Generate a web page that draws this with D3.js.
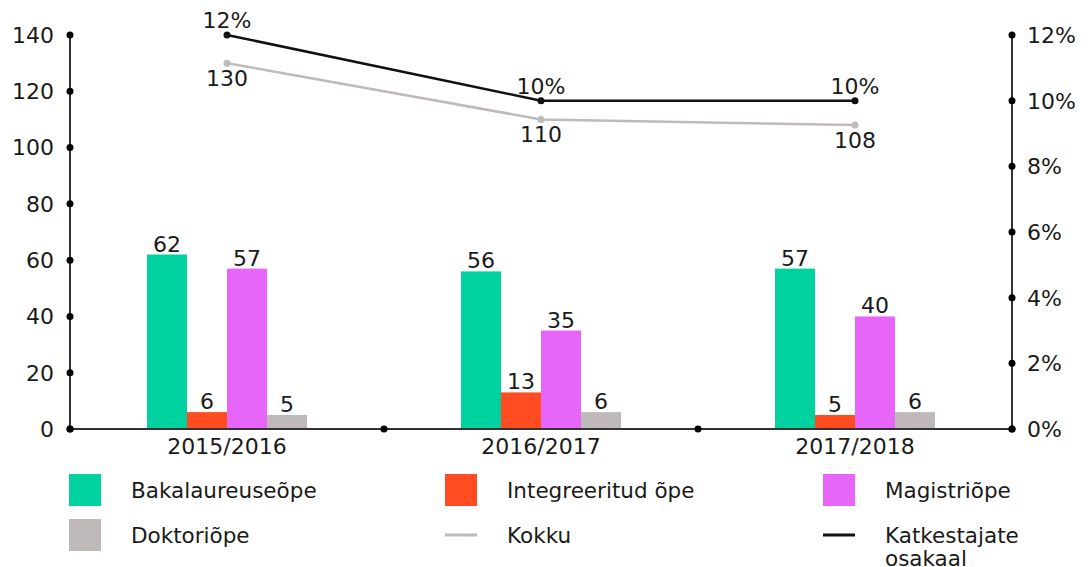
<!DOCTYPE html>
<html>
<head>
<meta charset="utf-8">
<script src="https://cdn.jsdelivr.net/npm/d3@7"></script>
<style>
	body { margin: 0; background: #fff; }
	text { font-family: "DejaVu Sans", sans-serif; fill: #1a1a1a; }
</style>
</head>
<body>
<svg id="chart" width="1088" height="567"></svg>
<script>
// data
const years = ["2015/2016", "2016/2017", "2017/2018"]
const seriesNames = ["Bakalaureuseõpe", "Integreeritud õpe", "Magistriõpe", "Doktoriõpe"]
const bakalaureus = [62, 56, 57]
const integreeritud = [6, 13, 5]
const magister = [57, 35, 40]
const doktor = [5, 6, 6]
const kokku = [130, 110, 108]
const katkestajad = [0.12, 0.10, 0.10]
const leftTicks = [0, 20, 40, 60, 80, 100, 120, 140]
const rightTicks = [0, 0.02, 0.04, 0.06, 0.08, 0.10, 0.12]

const colours = {
	green: "#00d29f",
	orange: "#ff4d21",
	magenta: "#e865fa",
	grey: "#bfb9b9",
	black: "#111",
	axis: "#333"
}
const barColours = [colours.green, colours.orange, colours.magenta, colours.grey]
const barValues = [bakalaureus, integreeritud, magister, doktor]

const svg = d3.select("#chart")
const plotLeft = 70, plotRight = 1012, plotTop = 35, plotBottom = 429
const fontSize = 22

const x = d3.scaleBand().domain(years).range([plotLeft, plotRight])
const x1 = d3.scaleBand().domain(seriesNames).range([0, 160])
const yL = d3.scaleLinear().domain([0, 140]).range([plotBottom, plotTop])
const yR = d3.scaleLinear().domain([0, 0.12]).range([plotBottom, plotTop])
const cx = d => x(d) + x.bandwidth() / 2

/**
 * bars, one group per study year
 */
const rows = years.flatMap((yr, i) =>
	seriesNames.map((s, j) => ({ yr, s, v: barValues[j][i], c: barColours[j] }))
)

const bar = svg.append("g").selectAll("g").data(rows).enter().append("g")

bar.append("rect")
	.attr("x", d => cx(d.yr) - 80 + x1(d.s))
	.attr("width", x1.bandwidth())
	.attr("y", d => yL(d.v))
	.attr("height", d => plotBottom - yL(d.v))
	.attr("fill", d => d.c)

bar.append("text")
	.attr("x", d => cx(d.yr) - 80 + x1(d.s) + x1.bandwidth() / 2)
	.attr("y", d => yL(d.v) - 3)
	.attr("text-anchor", "middle")
	.attr("font-size", fontSize)
	.text(d => d.v)

/**
 * axes: plain lines with dots at every tick
 */
const axes = svg.append("g")
axes.append("line").attr("x1", plotLeft).attr("x2", plotLeft).attr("y1", plotTop).attr("y2", plotBottom)
	.attr("stroke", colours.axis).attr("stroke-width", 2)
axes.append("line").attr("x1", plotRight).attr("x2", plotRight).attr("y1", plotTop).attr("y2", plotBottom)
	.attr("stroke", colours.axis).attr("stroke-width", 2)
axes.append("line").attr("x1", plotLeft).attr("x2", plotRight).attr("y1", plotBottom).attr("y2", plotBottom)
	.attr("stroke", colours.axis).attr("stroke-width", 2)

axes.selectAll(".ltick").data(leftTicks).enter().append("circle")
	.attr("cx", plotLeft).attr("cy", d => yL(d)).attr("r", 3.5).attr("fill", "#000")
axes.selectAll(".llab").data(leftTicks).enter().append("text")
	.attr("x", plotLeft - 16).attr("y", d => yL(d)).attr("dy", "0.36em")
	.attr("text-anchor", "end").attr("font-size", fontSize).text(d => d)

axes.selectAll(".rtick").data(rightTicks).enter().append("circle")
	.attr("cx", plotRight).attr("cy", d => yR(d)).attr("r", 3.5).attr("fill", "#000")
axes.selectAll(".rlab").data(rightTicks).enter().append("text")
	.attr("x", plotRight + 15).attr("y", d => yR(d)).attr("dy", "0.36em")
	.attr("font-size", fontSize).text(d => d3.format(".0%")(d))

const edges = years.map(d => x(d)).concat([plotRight])
axes.selectAll(".xtick").data(edges).enter().append("circle")
	.attr("cx", d => d).attr("cy", plotBottom).attr("r", 3.5).attr("fill", "#000")
axes.selectAll(".xlab").data(years).enter().append("text")
	.attr("x", d => cx(d)).attr("y", plotBottom + 25)
	.attr("text-anchor", "middle").attr("font-size", fontSize).text(d => d)

/**
 * the two lines: total (left axis) and drop-out share (right axis)
 */
const kokkuLine = d3.line().x((d, i) => cx(years[i])).y(d => yL(d))
const katkLine = d3.line().x((d, i) => cx(years[i])).y(d => yR(d))

svg.append("path").datum(kokku).attr("d", kokkuLine)
	.attr("fill", "none").attr("stroke", colours.grey).attr("stroke-width", 2.5)
svg.selectAll(".kdot").data(kokku).enter().append("circle")
	.attr("cx", (d, i) => cx(years[i])).attr("cy", d => yL(d)).attr("r", 3.5).attr("fill", colours.grey)
svg.selectAll(".klab").data(kokku).enter().append("text")
	.attr("x", (d, i) => cx(years[i])).attr("y", d => yL(d) + 23)
	.attr("text-anchor", "middle").attr("font-size", fontSize).text(d => d)

svg.append("path").datum(katkestajad).attr("d", katkLine)
	.attr("fill", "none").attr("stroke", colours.black).attr("stroke-width", 2.5)
svg.selectAll(".cdot").data(katkestajad).enter().append("circle")
	.attr("cx", (d, i) => cx(years[i])).attr("cy", d => yR(d)).attr("r", 3.5).attr("fill", colours.black)
svg.selectAll(".clab").data(katkestajad).enter().append("text")
	.attr("x", (d, i) => cx(years[i])).attr("y", d => yR(d) - 7)
	.attr("text-anchor", "middle").attr("font-size", fontSize).text(d => d3.format(".0%")(d))

/**
 * legend, three columns and two rows
 */
const legendItems = seriesNames.map((s, j) => ({ name: [s], type: "rect", c: barColours[j] }))
	.concat([
		{ name: ["Kokku"], type: "line", c: colours.grey },
		{ name: ["Katkestajate", "osakaal"], type: "line", c: colours.black }
	])
const colX = [69, 445, 823]

const legend = svg.append("g").selectAll("g").data(legendItems).enter().append("g")
	.attr("transform", (d, i) => `translate(${colX[i % 3]},${474 + Math.floor(i / 3) * 45})`)

legend.filter(d => d.type === "rect").append("rect")
	.attr("width", 32).attr("height", 32).attr("fill", d => d.c)
legend.filter(d => d.type === "line").append("line")
	.attr("x1", 0).attr("x2", 32).attr("y1", 16).attr("y2", 16)
	.attr("stroke", d => d.c).attr("stroke-width", 3)

legend.append("text")
	.attr("x", 62).attr("y", 16).attr("font-size", 21.5)
	.selectAll("tspan").data(d => d.name).enter().append("tspan")
	.attr("x", 62).attr("dy", (d, i) => i === 0 ? "0.36em" : "1.1em")
	.text(d => d)
</script>
</body>
</html>
